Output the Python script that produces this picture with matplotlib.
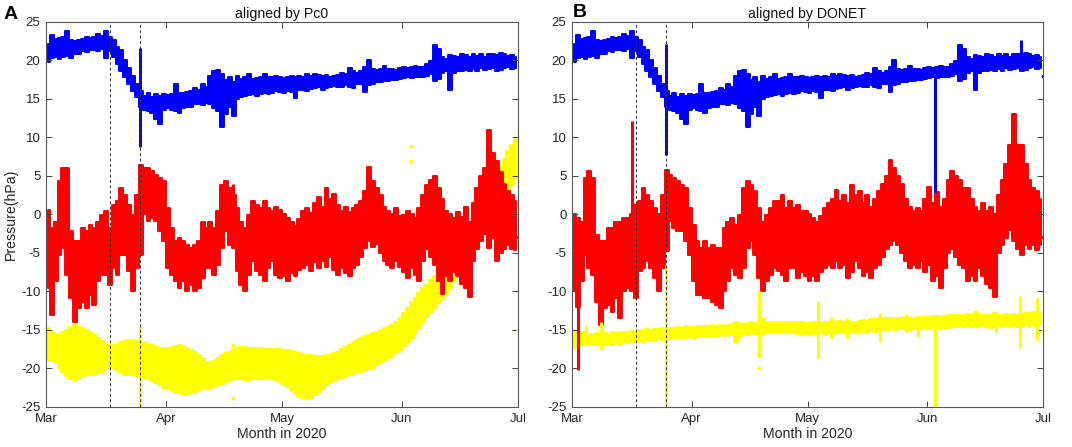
import numpy as np
import matplotlib
matplotlib.use("Agg")
import matplotlib.pyplot as plt
import matplotlib.dates as mdates

plt.rcParams['font.family'] = ['Liberation Sans', 'DejaVu Sans']
plt.rcParams['axes.unicode_minus'] = False

# daily envelopes (min / max of each day), 2020-03-01 .. 2020-06-30
start_day = np.datetime64('2020-03-01')
n_days = 122

blue_lo = [19.8, 20.3, 20.4, 20.2, 20.5, 20.6, 20.3, 20.8, 20.9, 21.2,
           21.1, 21.3, 21.4, 21.2, 21.5, 20.3, 21.2, 20.5, 19.6, 18.6,
           17.8, 17.0, 16.0, 15.3, 14.0, 13.6, 13.5, 13.2, 12.4, 11.8,
           13.6, 13.8, 13.6, 13.4, 13.2, 13.8, 14.0, 14.0, 14.3, 14.4,
           14.2, 14.5, 14.3, 13.8, 13.5, 11.4, 13.0, 14.0, 12.8, 15.0,
           15.2, 15.4, 15.5, 15.6, 15.4, 15.6, 15.8, 15.7, 15.8, 16.0,
           15.9, 15.8, 16.0, 15.9, 15.1, 16.2, 16.2, 16.1, 16.3, 16.4,
           16.5, 16.2, 16.4, 16.6, 16.7, 16.6, 16.5, 16.8, 16.6, 16.4,
           16.9, 17.0, 15.9, 16.8, 17.0, 17.2, 17.2, 17.4, 17.4, 17.5,
           17.5, 17.6, 17.7, 17.8, 17.7, 17.9, 17.8, 17.9, 18.0, 18.2,
           17.3, 17.6, 18.4, 18.6, 16.2, 18.4, 18.6, 18.7, 18.8, 18.6,
           18.9, 18.7, 19.0, 18.8, 18.9, 19.0, 18.7, 18.8, 19.0, 19.1,
           18.9, 19.0]
blue_hi = [22.2, 23.3, 22.8, 22.9, 23.0, 23.8, 22.6, 22.5, 22.6, 22.8,
           23.0, 22.9, 23.1, 23.4, 23.2, 23.8, 23.0, 22.6, 21.8, 21.3,
           20.0, 19.0, 18.0, 17.0, 16.0, 15.4, 15.8, 15.2, 15.6, 15.4,
           15.6, 15.5, 15.6, 17.0, 15.8, 15.8, 15.9, 16.1, 16.4, 16.2,
           17.0, 16.5, 18.0, 18.6, 18.8, 18.3, 17.5, 17.8, 17.2, 18.0,
           17.6, 17.8, 18.2, 17.6, 17.7, 17.9, 18.2, 17.8, 17.9, 18.0,
           17.8, 17.7, 17.8, 18.0, 17.8, 18.0, 17.9, 18.2, 18.0, 18.3,
           18.1, 18.0, 18.1, 17.9, 18.0, 18.1, 18.4, 18.3, 19.0, 18.6,
           18.4, 18.7, 19.2, 20.1, 18.9, 18.8, 18.9, 19.3, 18.9, 18.9,
           18.8, 19.0, 19.2, 19.0, 19.1, 19.3, 19.2, 19.1, 19.5, 19.9,
           22.0, 21.5, 20.5, 20.2, 20.7, 20.6, 20.4, 20.9, 20.7, 20.5,
           20.8, 20.6, 20.9, 20.5, 20.8, 20.9, 20.7, 21.0, 20.8, 20.6,
           20.7, 20.5]

red_a_lo = [-9.6, -13.1, -8.7, -5.3, -4.4, -7.9, -10.9, -14.0, -12.2, -11.3,
            -12.2, -10.5, -11.8, -8.7, -7.9, -7.9, -9.2, -7.0, -7.9, -5.3,
            -5.3, -7.4, -10.0, -7.0, -5.3, 0.0, -0.9, -0.5, -0.9, -2.2,
            -3.5, -7.0, -7.9, -8.7, -9.6, -8.7, -10.0, -9.2, -10.0, -9.6,
            -8.3, -7.0, -7.0, -7.9, -6.6, -4.4, -2.2, -4.0, -4.4, -7.4,
            -9.2, -10.0, -7.9, -6.1, -7.4, -7.9, -8.7, -7.0, -6.1, -7.9,
            -8.3, -8.0, -8.7, -7.6, -8.0, -7.2, -7.0, -6.5, -7.4, -6.2,
            -7.0, -6.0, -6.8, -5.5, -7.2, -7.9, -7.0, -7.6, -8.0, -7.0,
            -6.5, -5.5, -4.4, -3.5, -4.2, -3.8, -5.0, -6.0, -6.5, -7.0,
            -6.0, -6.8, -7.5, -8.3, -7.0, -7.8, -8.7, -6.0, -4.5, -5.5,
            -6.5, -8.7, -10.3, -8.0, -8.7, -7.5, -8.0, -9.0, -9.5, -10.7,
            -6.0, -4.5, -3.5, -2.5, -4.4, -3.0, -6.1, -5.0, -4.5, -4.0,
            -4.5, -4.6]
red_a_hi = [0.6, -1.8, -1.0, 4.3, 6.1, 6.0, -2.2, -3.5, -3.5, -1.8,
            -2.2, -1.4, -1.8, -1.0, -0.1, 0.4, -1.8, 1.2, 1.7, 3.4,
            2.5, 1.2, -0.1, 2.5, 6.4, 6.0, 6.0, 5.6, 5.1, 4.7,
            4.3, 0.8, -1.8, -3.5, -3.1, -3.5, -4.0, -4.4, -4.0, -3.5,
            -1.0, -1.8, -1.0, -1.8, 0.4, 3.8, 4.3, 3.4, 2.5, 0.8,
            -1.0, -1.8, -0.1, 1.7, 1.2, 0.8, 1.7, 0.8, 0.4, 1.0,
            0.6, 0.0, -0.5, -1.0, -1.5, -0.6, 0.5, 0.8, 0.2, 1.5,
            2.3, 1.0, 3.4, 2.0, 2.6, 1.2, 0.5, 1.0, 0.3, 0.8,
            1.2, 1.7, 3.0, 6.2, 4.3, 3.5, 2.5, 1.0, 0.5, 0.0,
            0.8, -0.2, -0.1, 0.5, 0.0, -0.5, 0.8, 2.5, 3.8, 4.5,
            5.0, 3.5, 2.0, 0.5, 0.0, -0.5, 0.3, -0.3, 1.0, -1.0,
            1.5, 3.5, 5.0, 6.0, 11.0, 8.0, 6.9, 5.5, 4.0, 3.0,
            2.5, 1.8]

red_b_lo = [-10.0, -12.0, -8.7, -5.3, -7.0, -7.9, -11.3, -14.4, -12.2, -11.8,
            -12.6, -10.9, -13.5, -10.0, -9.6, -10.0, -10.9, -7.4, -7.0, -6.1,
            -7.0, -8.3, -10.0, -7.0, -4.8, -0.9, -1.8, -2.2, -2.2, -3.5,
            -5.3, -8.7, -10.5, -10.5, -10.9, -10.9, -11.3, -11.8, -12.2, -10.0,
            -8.7, -7.0, -7.9, -8.3, -7.0, -4.4, -3.5, -5.3, -8.3, -10.0,
            -8.7, -7.9, -7.0, -7.4, -7.9, -8.7, -7.0, -7.0, -8.3, -7.5,
            -8.0, -8.7, -8.0, -8.7, -7.5, -7.0, -6.5, -7.0, -6.0, -7.0,
            -6.5, -8.3, -7.5, -6.0, -7.0, -8.0, -7.5, -8.3, -7.0, -6.5,
            -5.5, -4.5, -4.0, -3.5, -4.0, -5.0, -6.0, -7.0, -6.5, -7.0,
            -6.0, -7.5, -6.5, -8.7, -8.0, -9.6, -7.0, -5.0, -4.5, -5.5,
            -6.5, -7.0, -8.7, -8.0, -8.7, -7.0, -8.0, -9.0, -9.5, -10.7,
            -5.0, -4.0, -3.0, -2.0, -3.5, -4.5, -5.3, -4.0, -4.5, -4.0,
            -4.6, -4.0]
red_b_hi = [0.0, -0.5, -1.0, 4.7, 5.6, 4.7, -2.7, -3.5, -3.5, -1.8,
            -1.8, -1.0, -1.0, -0.5, -0.5, 0.0, 1.2, 1.7, 3.4, 2.5,
            1.7, 0.8, 0.0, 2.5, 5.8, 5.1, 4.7, 4.3, 3.8, 3.4,
            0.8, -1.4, -3.5, -4.4, -3.5, -4.4, -4.0, -4.4, -4.4, -1.8,
            -1.0, -0.5, -1.4, -0.1, 3.4, 4.3, 3.8, 3.0, 0.8, -1.0,
            -0.1, 0.8, 1.7, 1.7, 2.5, 0.8, 1.7, 0.8, 1.2, 0.5,
            0.4, 0.0, -0.5, -1.0, -0.2, 0.8, 1.5, 2.0, 3.2, 1.8,
            2.5, 1.5, 3.8, 2.5, 3.0, 1.5, 2.5, 1.0, 2.0, 3.0,
            4.0, 5.0, 7.1, 6.0, 5.0, 4.0, 2.0, 1.0, 0.5, 0.8,
            0.5, 2.0, 3.6, 1.5, 2.9, 1.0, 2.0, 4.5, 5.6, 5.0,
            4.5, 3.5, 3.4, 2.0, 1.0, 0.5, 1.5, 0.5, 1.0, 0.0,
            2.5, 4.5, 6.5, 9.0, 13.0, 9.0, 9.0, 6.5, 4.5, 3.5,
            3.0, 2.0]

yel_a_lo = [-19.0, -19.0, -19.3, -20.0, -20.5, -21.0, -21.3, -21.5, -21.3, -21.0,
            -20.9, -20.8, -20.9, -20.6, -20.4, -20.0, -19.8, -20.0, -20.3, -20.6,
            -20.8, -20.9, -20.9, -21.0, -21.0, -21.2, -21.3, -21.6, -21.9, -22.2,
            -22.5, -22.6, -22.8, -23.0, -23.2, -23.3, -23.3, -23.2, -23.0, -22.8,
            -22.7, -22.6, -22.6, -22.4, -22.2, -22.0, -21.8, -21.6, -21.4, -21.3,
            -21.4, -21.5, -21.5, -21.4, -21.3, -21.3, -21.2, -21.3, -21.3, -21.5,
            -21.8, -22.1, -22.4, -22.8, -23.2, -23.6, -23.8, -23.9, -23.8, -23.5,
            -23.0, -22.6, -22.2, -21.9, -21.6, -21.4, -21.2, -21.0, -20.9, -20.8,
            -20.6, -20.5, -20.3, -20.1, -19.9, -19.6, -19.3, -19.0, -18.7, -18.4,
            -18.0, -17.6, -17.1, -16.6, -16.0, -15.4, -14.7, -14.0, -13.3, -12.7,
            -12.1, -11.5, -11.0, -10.3, -9.5, -8.7, -7.8, -6.9, -6.0, -5.2,
            -4.4, -3.7, -3.0, -2.3, -1.5, -0.6, 0.3, 1.3, 2.2, 3.0,
            3.8, 4.6]
yel_a_hi = [-14.8, -15.2, -15.5, -15.6, -15.3, -15.0, -14.6, -14.4, -14.6, -14.8,
            -15.0, -15.3, -15.6, -16.0, -16.4, -16.8, -17.0, -17.0, -16.8, -16.6,
            -16.4, -16.3, -16.3, -16.4, -16.5, -16.6, -16.8, -17.0, -17.2, -17.4,
            -17.4, -17.3, -17.2, -17.1, -17.0, -17.1, -17.3, -17.6, -17.9, -18.3,
            -18.7, -19.1, -19.2, -19.0, -18.6, -18.3, -18.0, -17.8, -17.5, -17.3,
            -17.2, -17.2, -17.3, -17.3, -17.4, -17.4, -17.5, -17.5, -17.5, -17.5,
            -17.5, -17.6, -17.6, -17.7, -17.8, -18.0, -18.1, -18.2, -18.3, -18.4,
            -18.4, -18.4, -18.3, -18.2, -18.0, -17.8, -17.5, -17.2, -16.9, -16.6,
            -16.3, -16.0, -15.8, -15.6, -15.4, -15.2, -15.0, -14.8, -14.6, -14.4,
            -14.0, -13.4, -12.8, -12.1, -11.4, -10.8, -10.2, -9.6, -9.0, -8.5,
            -8.0, -7.6, -7.0, -6.3, -5.5, -4.6, -3.7, -2.9, -2.1, -1.3,
            -0.5, 0.3, 1.1, 1.9, 2.8, 3.8, 5.0, 6.2, 7.2, 8.2,
            9.0, 9.8]

yel_b_lo = [-17.4, -17.2, -16.9, -16.9, -16.8, -17.0, -16.9, -16.8, -17.0, -16.8,
            -16.9, -16.7, -16.8, -16.6, -16.7, -16.5, -16.6, -16.4, -16.5, -16.3,
            -16.4, -16.3, -16.2, -16.3, -16.2, -16.1, -16.2, -16.0, -16.1, -16.0,
            -15.9, -16.0, -15.9, -15.9, -15.8, -15.9, -15.8, -15.8, -15.7, -15.8,
            -15.7, -15.6, -16.6, -15.8, -15.5, -15.6, -15.4, -15.5, -15.4, -15.6,
            -15.4, -15.3, -15.4, -15.3, -15.4, -15.3, -15.3, -15.4, -15.5, -15.6,
            -15.5, -15.6, -15.5, -15.5, -15.4, -15.5, -15.4, -15.5, -15.4, -15.3,
            -15.4, -15.3, -15.3, -15.4, -15.3, -15.2, -15.2, -15.1, -15.2, -15.1,
            -15.0, -15.0, -14.9, -15.0, -14.9, -14.9, -14.9, -15.0, -14.9, -14.8,
            -14.9, -14.8, -14.9, -14.8, -14.8, -14.7, -14.8, -14.7, -14.6, -14.6,
            -14.5, -14.6, -14.5, -14.6, -14.5, -14.6, -14.5, -14.6, -14.7, -14.6,
            -14.5, -14.6, -14.5, -14.6, -14.5, -14.6, -14.5, -14.4, -14.5, -14.4,
            -14.5, -14.3]
yel_b_hi = [-15.0, -15.2, -15.4, -15.3, -15.6, -15.5, -15.4, -15.5, -15.4, -15.5,
            -15.3, -15.4, -15.2, -15.3, -15.2, -15.1, -15.2, -15.0, -15.1, -14.9,
            -15.0, -14.9, -14.9, -14.8, -14.8, -14.8, -14.7, -14.6, -14.7, -14.5,
            -14.6, -14.6, -14.5, -14.6, -14.5, -14.5, -14.4, -14.5, -14.4, -14.5,
            -14.4, -14.2, -14.0, -14.1, -14.2, -14.1, -14.0, -14.1, -13.9, -13.6,
            -14.0, -13.9, -14.0, -13.9, -14.0, -13.9, -14.0, -14.0, -14.0, -14.0,
            -14.1, -14.1, -14.0, -14.0, -13.9, -14.0, -13.9, -13.8, -13.9, -13.8,
            -13.9, -13.8, -13.9, -13.9, -13.8, -13.7, -13.8, -13.6, -13.6, -13.5,
            -13.5, -13.4, -13.4, -13.5, -13.4, -13.5, -13.3, -13.4, -13.4, -13.3,
            -13.4, -13.3, -13.3, -13.2, -13.2, -13.3, -13.2, -13.1, -13.1, -13.0,
            -13.0, -13.0, -12.9, -13.0, -12.7, -13.0, -13.0, -13.1, -13.1, -12.8,
            -13.0, -13.0, -12.9, -13.0, -12.9, -13.0, -12.9, -12.8, -12.8, -12.7,
            -12.7, -12.6]

# short glitches: (time, low, high)
blue_spikes_a = [('2020-03-25T10', 8.8, 21.6)]
blue_spikes_b = [('2020-03-25T10', 7.7, 22.2), ('2020-06-03T00', 2.9, 17.7),
                 ('2020-06-25T05', 19.5, 22.7)]
red_spikes_a = [('2020-04-18T05', 2.5, 4.0)]
red_spikes_b = [('2020-03-02T14', -20.2, -5.0), ('2020-03-16T10', -2.0, 12.2)]
yel_spikes_a = [('2020-03-25T10', -25.0, -14.5)]
yel_spikes_b = [('2020-03-25T10', -25.0, -6.6), ('2020-04-18T10', -18.5, -10.0),
                ('2020-05-03T19', -18.7, -11.2), ('2020-06-03T02', -25.0, -13.0),
                ('2020-06-24T22', -17.4, -10.6), ('2020-06-29T12', -16.3, -10.9),
                ('2020-03-04T12', -16.5, -14.4), ('2020-03-08T12', -17.6, -14.0),
                ('2020-04-12T22', -16.6, -14.0), ('2020-04-19T19', -15.5, -13.4),
                ('2020-05-07T00', -16.0, -13.3), ('2020-05-11T07', -16.0, -13.5),
                ('2020-05-19T17', -16.5, -12.8), ('2020-05-26T14', -15.3, -12.9),
                ('2020-05-29T12', -15.9, -13.2), ('2020-06-13T22', -14.6, -12.4),
                ('2020-06-18T22', -15.2, -12.6)]

# isolated samples: (time, value)
yel_dots_a = [('2020-06-03T07', 8.9), ('2020-06-03T07', 7.0),
              ('2020-04-18T05', -17.0), ('2020-04-18T05', -23.8),
              ('2020-06-30T23', -15.0)]
yel_dots_b = [('2020-04-18T10', -20.0), ('2020-06-30T23', -15.0)]
red_dots = [('2020-06-30T23', -2.9)]
blue_dots_b = [('2020-06-30T23', 18.0)]

event_times = ['2020-03-17T12', '2020-03-25T10']
titles = ['aligned by Pc0', 'aligned by DONET']
panel_tags = ['A', 'B']

BLUE, RED, YELLOW = '#0000ff', '#ff0000', '#ffff00'
days = (start_day + np.arange(n_days)).astype('datetime64[h]') + np.timedelta64(12, 'h')


def band(ax, lo, hi, color):
    # one column per day, from the day's min to its max
    ax.fill_between(days, lo, hi, step='mid', facecolor=color,
                    edgecolor=color, lw=1.4, joinstyle='round')


def spikes(ax, items, color):
    for s, lo, hi in items:
        ax.vlines(np.datetime64(s), lo, hi, color=color, lw=2.2)


def dots(ax, items, color):
    for s, v in items:
        ax.plot(np.datetime64(s), v, 'o', color=color, ms=2.8, mec='none')


fig = plt.figure(figsize=(10.72, 4.47), dpi=100)
ax_a = fig.add_axes([0.0429, 0.0895, 0.4403, 0.8613])
ax_b = fig.add_axes([0.5336, 0.0895, 0.4394, 0.8613])

panels = [
    (ax_a, red_a_lo, red_a_hi, yel_a_lo, yel_a_hi, blue_spikes_a, red_spikes_a, yel_spikes_a, yel_dots_a, []),
    (ax_b, red_b_lo, red_b_hi, yel_b_lo, yel_b_hi, blue_spikes_b, red_spikes_b, yel_spikes_b, yel_dots_b, blue_dots_b),
]

for i, (ax, rlo, rhi, ylo, yhi, bsp, rsp, ysp, ydt, bdt) in enumerate(panels):
    # yellow at the back, red over it, blue on top
    band(ax, ylo, yhi, YELLOW)
    spikes(ax, ysp, YELLOW)
    dots(ax, ydt, YELLOW)
    band(ax, rlo, rhi, RED)
    spikes(ax, rsp, RED)
    dots(ax, red_dots, RED)
    band(ax, blue_lo, blue_hi, BLUE)
    spikes(ax, bsp, BLUE)
    dots(ax, bdt, BLUE)
    for et in event_times:
        ax.axvline(np.datetime64(et), color='#333333', lw=0.7, ls=(0, (3, 2.5)), zorder=5)

    ax.set_xlim(np.datetime64('2020-03-01'), np.datetime64('2020-07-01'))
    ax.set_ylim(-25, 25)
    ax.set_yticks(np.arange(-25, 26, 5))
    ax.xaxis.set_major_locator(mdates.MonthLocator())
    ax.xaxis.set_major_formatter(mdates.DateFormatter('%b'))
    ax.tick_params(direction='in', top=True, right=True, length=4, width=0.7,
                   color='#444444', labelcolor='#262626', labelsize=9.5, pad=4)
    for sp in ax.spines.values():
        sp.set_color('#555555')
        sp.set_linewidth(0.8)
    ax.set_title(titles[i], fontsize=10.2, color='#111111', pad=3)
    ax.set_xlabel('Month in 2020', fontsize=10.2, color='#262626', labelpad=2)

ax_a.set_ylabel('Pressure(hPa)', fontsize=10.2, color='#262626', labelpad=2)

fig.text(0.003, 0.958, panel_tags[0], fontsize=14, fontweight='bold', ha='left', va='baseline')
fig.text(0.5345, 0.961, panel_tags[1], fontsize=14, fontweight='bold', ha='left', va='baseline')

fig.savefig('out.png', dpi=100)
